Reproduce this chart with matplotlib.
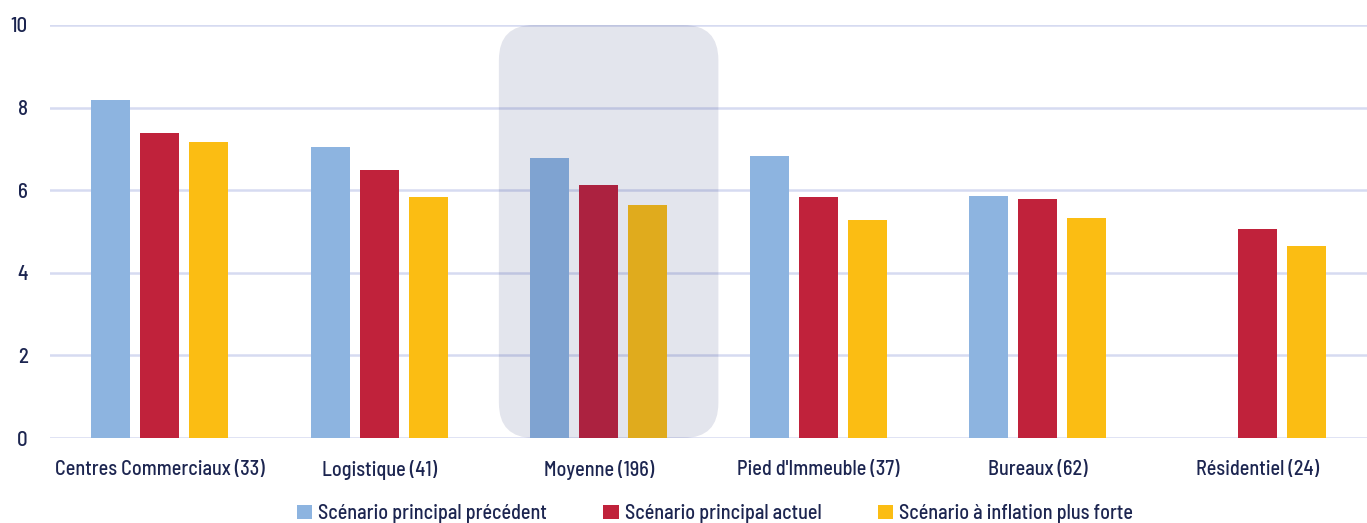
import matplotlib
matplotlib.use("Agg")
import matplotlib.pyplot as plt
from matplotlib.patches import FancyBboxPatch, Patch
from matplotlib import font_manager
import numpy as np

categories = ["Centres Commerciaux (33)", "Logistique (41)", "Moyenne (196)",
              "Pied d'Immeuble (37)", "Bureaux (62)", "Résidentiel (24)"]
precedent = [8.18, 7.05, 6.78, 6.83, 5.86, np.nan]
actuel = [7.38, 6.49, 6.13, 5.84, 5.79, 5.06]
inflation = [7.17, 5.84, 5.64, 5.28, 5.33, 4.65]
series_names = ["Scénario principal précédent", "Scénario principal actuel",
                "Scénario à inflation plus forte"]
yticks = [0, 2, 4, 6, 8, 10]

colors = ["#8db4e0", "#c0223b", "#fbbd13"]
text_color = "#1c2550"
grid_color = "#d6dbf1"

names = {f.name for f in font_manager.fontManager.ttflist}
fam = "DejaVu Sans"
for cand in ["Barlow Semi Condensed", "Fira Sans Condensed", "Roboto Condensed",
             "Archivo Narrow", "PT Sans Narrow"]:
    if cand in names:
        fam = cand
        break
plt.rcParams['font.family'] = [fam, "DejaVu Sans"]
plt.rcParams['font.weight'] = 500

fig = plt.figure(figsize=(13.67, 5.23), dpi=100)
ax = fig.add_axes([50/1367, 85/523, 1317/1367, 413/523])

x = np.arange(len(categories))
w = 0.178
off = 0.223
for i, (vals, c) in enumerate(zip([precedent, actuel, inflation], colors)):
    ax.bar(x + (i - 1) * off, vals, width=w, color=c, zorder=3)

ax.set_xlim(-0.5, len(categories) - 0.5)
ax.set_ylim(0, 10)
ax.set_yticks(yticks)
ax.set_yticklabels([str(t) for t in yticks])
ax.set_xticks(x)
ax.set_xticklabels(categories)
ax.yaxis.grid(True, color=grid_color, linewidth=1.8, zorder=0)
ax.set_axisbelow(True)
for s in ax.spines.values():
    s.set_visible(False)
ax.tick_params(axis='both', length=0, colors=text_color, labelsize=14.5)
ax.tick_params(axis='x', pad=16)
ax.tick_params(axis='y', pad=16)
for lab in ax.get_yticklabels():
    lab.set_fontsize(15)

# highlight box around the average group
px_x = 1317 / len(categories)
px_y = 413 / 10
r = 35 / px_x
box = FancyBboxPatch((1.545, 0), 1.0, 10,
                     boxstyle=f"round,pad=0,rounding_size={r}",
                     mutation_aspect=px_x / px_y,
                     facecolor="#1f2a6b", alpha=0.12, edgecolor="none",
                     zorder=5, clip_on=False)
ax.add_patch(box)

handles = [Patch(facecolor=c, edgecolor="none") for c in colors]
leg = fig.legend(handles, series_names, loc="center", ncol=3,
                 bbox_to_anchor=(0.523, 0.018), frameon=False,
                 handlelength=0.75, handleheight=0.75, handletextpad=0.3,
                 columnspacing=2.8,
                 prop={"family": [fam, "DejaVu Sans"], "weight": 500, "size": 14.5})
for t in leg.get_texts():
    t.set_color(text_color)

fig.savefig("out.png", dpi=100)
